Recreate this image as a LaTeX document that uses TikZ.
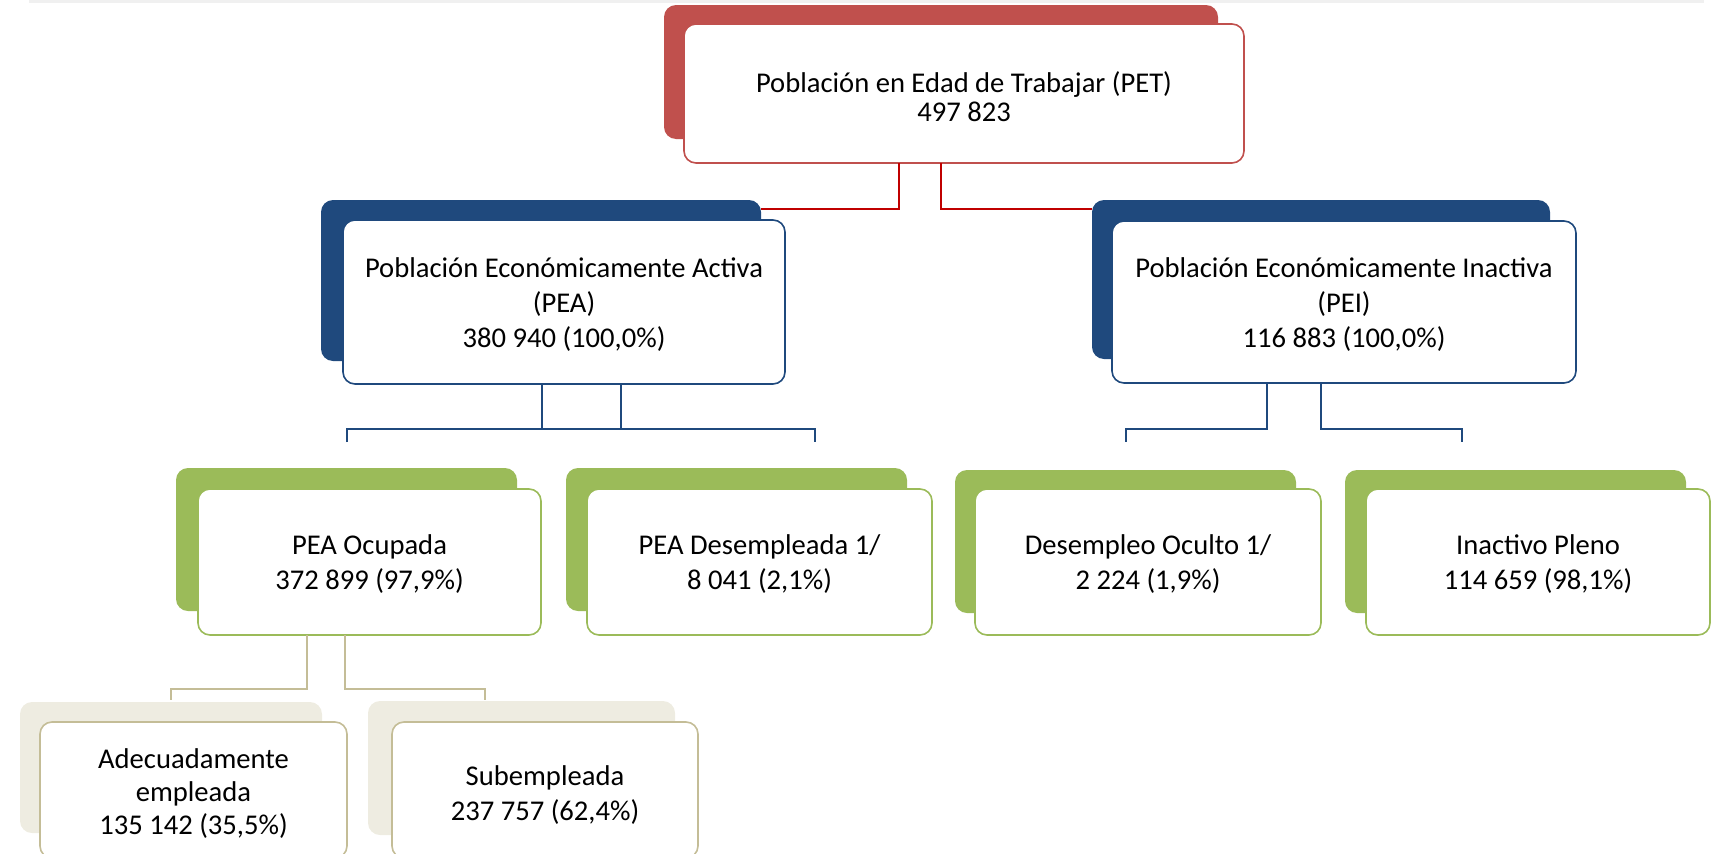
\documentclass[tikz,border=0pt]{standalone}
\usepackage{fontspec}
\setmainfont{Carlito}
\definecolor{cred}{HTML}{C0504D}
\definecolor{credline}{HTML}{C00000}
\definecolor{cblue}{HTML}{1F497D}
\definecolor{cgreen}{HTML}{9BBB59}
\definecolor{cbeige}{HTML}{EEECE1}
\definecolor{cbeigeline}{HTML}{C4BD97}
\definecolor{ctop}{HTML}{F0F0F0}
\tikzset{
  backbox/.style={rounded corners=12pt, draw=none, inner sep=0pt, outer sep=0pt, anchor=north west},
  frontbox/.style={rounded corners=12pt, fill=white, line width=1.6pt, inner sep=0pt, outer sep=0pt, anchor=north west},
  txt/.style={align=center, inner sep=0pt, font=\fontsize{28.6}{35}\selectfont},
  conn/.style={line width=2pt}
}
\begin{document}
\begin{tikzpicture}[x=1pt,y=-1pt]
\useasboundingbox (0,0) rectangle (1714,854);
\fill[ctop] (29,0) rectangle (1704,3);
% PET
\node[backbox, fill=cred, minimum width=554pt, minimum height=134pt] (petb) at (664,5) {};
\node[frontbox, draw=cred, minimum width=560pt, minimum height=139pt] (pet) at (684,24) {};
\node[txt, font=\fontsize{28.6}{29}\selectfont] (pett) at ([yshift=-3pt]pet.center) {Población en Edad de Trabajar (PET)\\497 823};
% PEA
\node[backbox, fill=cblue, minimum width=440pt, minimum height=161pt] (peab) at (321,200) {};
\node[frontbox, draw=cblue, minimum width=442pt, minimum height=164pt] (pea) at (343,220) {};
\node[txt] (peat) at ([yshift=-3pt]pea.center) {Población Económicamente Activa\\(PEA)\\380 940 (100,0\%)};
% PEI
\node[backbox, fill=cblue, minimum width=458pt, minimum height=159pt] (peib) at (1092,200) {};
\node[frontbox, draw=cblue, minimum width=464pt, minimum height=162pt] (pei) at (1112,221) {};
\node[txt] (peit) at ([yshift=-3pt]pei.center) {Población Económicamente Inactiva\\(PEI)\\116 883 (100,0\%)};
% PEA Ocupada
\node[backbox, fill=cgreen, minimum width=341pt, minimum height=143pt] (ocub) at (176,468) {};
\node[frontbox, draw=cgreen, minimum width=343pt, minimum height=146pt] (ocu) at (198,489) {};
\node[txt] (ocut) at ([yshift=-2pt]ocu.center) {PEA Ocupada\\372 899 (97,9\%)};
% PEA Desempleada
\node[backbox, fill=cgreen, minimum width=341pt, minimum height=143pt] (desb) at (566,468) {};
\node[frontbox, draw=cgreen, minimum width=345pt, minimum height=146pt] (des) at (587,489) {};
\node[txt] (dest) at ([yshift=-2pt]des.center) {PEA Desempleada 1/\\8 041 (2,1\%)};
% Desempleo Oculto
\node[backbox, fill=cgreen, minimum width=341pt, minimum height=143pt] (ocb) at (955,470) {};
\node[frontbox, draw=cgreen, minimum width=346pt, minimum height=146pt] (oc) at (975,489) {};
\node[txt] (oct) at ([yshift=-2pt]oc.center) {Desempleo Oculto 1/\\2 224 (1,9\%)};
% Inactivo Pleno
\node[backbox, fill=cgreen, minimum width=341pt, minimum height=143pt] (inb) at (1345,470) {};
\node[frontbox, draw=cgreen, minimum width=344pt, minimum height=146pt] (inp) at (1366,489) {};
\node[txt] (inpt) at ([yshift=-2pt]inp.center) {Inactivo Pleno\\114 659 (98,1\%)};
% Adecuadamente
\node[backbox, fill=cbeige, minimum width=302pt, minimum height=131pt] (adb) at (20,702) {};
\node[frontbox, draw=cbeigeline, minimum width=307pt, minimum height=136pt] (ad) at (40,722) {};
\node[txt, font=\fontsize{28.6}{33}\selectfont] (adt) at ([yshift=-4pt]ad.center) {Adecuadamente\\empleada\\135 142 (35,5\%)};
% Subempleada
\node[backbox, fill=cbeige, minimum width=307pt, minimum height=134pt] (sub) at (368,701) {};
\node[frontbox, draw=cbeigeline, minimum width=306pt, minimum height=136pt] (su) at (392,722) {};
\node[txt] (sut) at ([yshift=-5pt]su.center) {Subempleada\\237 757 (62,4\%)};
% connectors PET
\draw[conn, credline] (899,0 |- pet.south) -- (899,209) -- (peab.east |- 0,209);
\draw[conn, credline] (941,0 |- pet.south) -- (941,209) -- (peib.west |- 0,209);
% connectors PEA
\coordinate (peaR) at (815,442);
\draw[conn, cblue] (542,0 |- pea.south) -- (542,429);
\draw[conn, cblue] (621,0 |- pea.south) -- (621,429);
\draw[conn, cblue] (ocub.north |- 0,442) -- (ocub.north |- 0,429) -- (815,429) -- (peaR);
% connectors PEI
\coordinate (peiR) at (1462,442);
\draw[conn, cblue] (1267,0 |- pei.south) -- (1267,429) -- (ocb.north |- 0,429) -- (ocb.north |- 0,442);
\draw[conn, cblue] (1321,0 |- pei.south) -- (1321,429) -- (1462,429) -- (peiR);
% connectors PEA Ocupada
\coordinate (ocuR) at (485,700);
\draw[conn, cbeigeline] (307,0 |- ocu.south) -- (307,689) -- (adb.north |- 0,689) -- (adb.north |- 0,700);
\draw[conn, cbeigeline] (345,0 |- ocu.south) -- (345,689) -- (485,689) -- (ocuR);
\end{tikzpicture}
\end{document}
